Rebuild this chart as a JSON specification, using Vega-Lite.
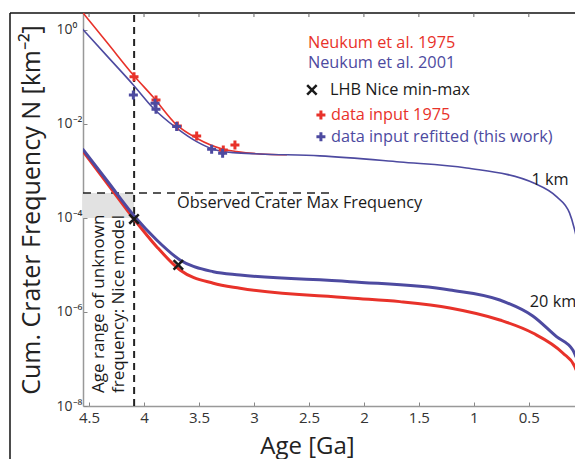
{
  "$schema": "https://vega.github.io/schema/vega-lite/v6.json",
  "width": 492,
  "height": 393,
  "autosize": {"type": "none"},
  "padding": {"left": 83, "top": 13, "right": 0, "bottom": 53},
  "background": "white",
  "config": {
    "view": {"stroke": null},
    "font": "Open Sans",
    "axisY": {
      "titleFontSize": 25, "titleFont": "Open Sans", "titleFontWeight": "normal", "titleColor": "#222",
      "titleX": -52, "titleY": 196.5, "titleAngle": 270, "titleAlign": "center", "titleBaseline": "middle",
      "labelFontSize": 14, "labelFont": "Open Sans", "labelColor": "#333", "labelPadding": 31, "labelAlign": "left",
      "tickSize": -4, "tickColor": "#888", "domainColor": "#999", "domainWidth": 1.5, "grid": false
    },
    "axisX": {
      "titleFontSize": 24, "titleFont": "Open Sans", "titleFontWeight": "normal", "titleColor": "#222",
      "titleX": 224, "titleY": 47, "titleAlign": "center", "titleBaseline": "alphabetic",
      "labelFontSize": 15, "labelFont": "Open Sans", "labelColor": "#333", "labelPadding": 8,
      "tickSize": -4, "tickColor": "#888", "domainColor": "#999", "domainWidth": 1.5, "grid": false
    }
  },
  "datasets": {
    "curves": [
      {"curve": "1km", "series": "1975", "T": 4.56, "N": 2.39},
      {"curve": "1km", "series": "1975", "T": 4.327, "N": 0.508},
      {"curve": "1km", "series": "1975", "T": 4.097, "N": 0.110},
      {"curve": "1km", "series": "1975", "T": 3.915, "N": 0.0368},
      {"curve": "1km", "series": "1975", "T": 3.703, "N": 0.00952},
      {"curve": "1km", "series": "1975", "T": 3.521, "N": 0.00496},
      {"curve": "1km", "series": "1975", "T": 3.279, "N": 0.0029},
      {"curve": "1km", "series": "1975", "T": 3.157, "N": 0.00258},
      {"curve": "1km", "series": "1975", "T": 2.945, "N": 0.0023},
      {"curve": "1km", "series": "1975", "T": 2.7, "N": 0.00221},
      {"curve": "1km", "series": "2001", "T": 4.56, "N": 1.05},
      {"curve": "1km", "series": "2001", "T": 4.327, "N": 0.264},
      {"curve": "1km", "series": "2001", "T": 4.097, "N": 0.0676},
      {"curve": "1km", "series": "2001", "T": 3.915, "N": 0.0216},
      {"curve": "1km", "series": "2001", "T": 3.703, "N": 0.00813},
      {"curve": "1km", "series": "2001", "T": 3.521, "N": 0.0042},
      {"curve": "1km", "series": "2001", "T": 3.37, "N": 0.0029},
      {"curve": "1km", "series": "2001", "T": 3.188, "N": 0.00245},
      {"curve": "1km", "series": "2001", "T": 2.945, "N": 0.0023},
      {"curve": "1km", "series": "2001", "T": 2.4, "N": 0.00209},
      {"curve": "1km", "series": "2001", "T": 1.673, "N": 0.00155},
      {"curve": "1km", "series": "2001", "T": 1.066, "N": 0.00116},
      {"curve": "1km", "series": "2001", "T": 0.45, "N": 0.000547},
      {"curve": "1km", "series": "2001", "T": 0.248, "N": 0.000284},
      {"curve": "1km", "series": "2001", "T": 0.13, "N": 0.000128},
      {"curve": "1km", "series": "2001", "T": 0.085, "N": 0.0000583},
      {"curve": "1km", "series": "2001", "T": 0.07, "N": 0.0000414},
      {"curve": "20km", "series": "1975", "T": 4.56, "N": 0.00273},
      {"curve": "20km", "series": "1975", "T": 4.327, "N": 0.000514},
      {"curve": "20km", "series": "1975", "T": 4.097, "N": 0.0000986},
      {"curve": "20km", "series": "1975", "T": 3.885, "N": 0.0000245},
      {"curve": "20km", "series": "1975", "T": 3.673, "N": 0.00000783},
      {"curve": "20km", "series": "1975", "T": 3.37, "N": 0.00000408},
      {"curve": "20km", "series": "1975", "T": 3.127, "N": 0.00000319},
      {"curve": "20km", "series": "1975", "T": 2.127, "N": 0.00000199},
      {"curve": "20km", "series": "1975", "T": 1.673, "N": 0.00000166},
      {"curve": "20km", "series": "1975", "T": 1.218, "N": 0.00000122},
      {"curve": "20km", "series": "1975", "T": 0.764, "N": 0.000000676},
      {"curve": "20km", "series": "1975", "T": 0.464, "N": 0.000000357},
      {"curve": "20km", "series": "1975", "T": 0.191, "N": 0.000000134},
      {"curve": "20km", "series": "1975", "T": 0.082, "N": 0.0000000685},
      {"curve": "20km", "series": "1975", "T": 0.07, "N": 0.0000000583},
      {"curve": "20km", "series": "2001", "T": 4.56, "N": 0.00296},
      {"curve": "20km", "series": "2001", "T": 4.327, "N": 0.000581},
      {"curve": "20km", "series": "2001", "T": 4.097, "N": 0.000116},
      {"curve": "20km", "series": "2001", "T": 3.885, "N": 0.000034},
      {"curve": "20km", "series": "2001", "T": 3.673, "N": 0.0000128},
      {"curve": "20km", "series": "2001", "T": 3.37, "N": 0.00000719},
      {"curve": "20km", "series": "2001", "T": 3.127, "N": 0.00000612},
      {"curve": "20km", "series": "2001", "T": 2.127, "N": 0.00000442},
      {"curve": "20km", "series": "2001", "T": 1.218, "N": 0.00000294},
      {"curve": "20km", "series": "2001", "T": 0.764, "N": 0.0000018},
      {"curve": "20km", "series": "2001", "T": 0.464, "N": 0.000000822},
      {"curve": "20km", "series": "2001", "T": 0.248, "N": 0.000000298},
      {"curve": "20km", "series": "2001", "T": 0.1, "N": 0.000000155},
      {"curve": "20km", "series": "2001", "T": 0.07, "N": 0.00000011}
    ],
    "markers": [
      {"kind": "data", "series": "1975", "T": 4.091, "N": 0.1014},
      {"kind": "data", "series": "1975", "T": 3.891, "N": 0.0324},
      {"kind": "data", "series": "1975", "T": 3.697, "N": 0.00906},
      {"kind": "data", "series": "1975", "T": 3.521, "N": 0.00556},
      {"kind": "data", "series": "1975", "T": 3.279, "N": 0.0028},
      {"kind": "data", "series": "1975", "T": 3.173, "N": 0.00357},
      {"kind": "data", "series": "2001", "T": 4.097, "N": 0.0414},
      {"kind": "data", "series": "2001", "T": 3.9, "N": 0.0275},
      {"kind": "data", "series": "2001", "T": 3.891, "N": 0.0206},
      {"kind": "data", "series": "2001", "T": 3.703, "N": 0.00877},
      {"kind": "data", "series": "2001", "T": 3.385, "N": 0.0029},
      {"kind": "data", "series": "2001", "T": 3.285, "N": 0.00238},
      {"kind": "data", "series": "1975", "T": 2.391, "N": 0.0155},
      {"kind": "data", "series": "2001", "T": 2.391, "N": 0.00537},
      {"kind": "lhb", "series": "black", "T": 4.091, "N": 0.000095},
      {"kind": "lhb", "series": "black", "T": 3.688, "N": 0.00001},
      {"kind": "lhb", "series": "black", "T": 2.473, "N": 0.0528}
    ],
    "labels": [
      {"series": "1975", "T": 2.509, "N": 0.537, "label": "Neukum et al. 1975"},
      {"series": "2001", "T": 2.509, "N": 0.1954, "label": "Neukum et al. 2001"},
      {"series": "black", "T": 2.309, "N": 0.0528, "label": "LHB Nice min-max"},
      {"series": "1975", "T": 2.3, "N": 0.01552, "label": "data input 1975"},
      {"series": "2001", "T": 2.3, "N": 0.00537, "label": "data input refitted (this work)"},
      {"series": "black", "T": 3.7, "N": 0.0002056, "label": "Observed Crater Max Frequency"},
      {"series": "black", "T": 0.476, "N": 0.000646, "label": "1 km"},
      {"series": "black", "T": 0.491, "N": 0.00000163, "label": "20 km"}
    ],
    "vlabels": [
      {"T": 4.409, "N": 0.0000000189, "label": "Age range of unknown"},
      {"T": 4.227, "N": 0.0000000189, "label": "frequency: Nice model"}
    ],
    "frame": [
      {"T": 5.219, "T2": 0.08, "N": 2.29}
    ],
    "frameleft": [
      {"T": 5.219, "N": 2.29, "N2": 0.0000000007}
    ],
    "topticks": [
      {"T": 4.5, "N": 2.29, "N2": 1.88},
      {"T": 4.0, "N": 2.29, "N2": 1.88},
      {"T": 3.5, "N": 2.29, "N2": 1.88},
      {"T": 3.0, "N": 2.29, "N2": 1.88},
      {"T": 2.5, "N": 2.29, "N2": 1.88},
      {"T": 2.0, "N": 2.29, "N2": 1.88},
      {"T": 1.5, "N": 2.29, "N2": 1.88},
      {"T": 1.0, "N": 2.29, "N2": 1.88},
      {"T": 0.5, "N": 2.29, "N2": 1.88}
    ]
  },
  "encoding": {
    "x": {
      "field": "T", "type": "quantitative",
      "scale": {"domain": [0.08, 4.555], "reverse": true, "nice": false, "zero": false},
      "axis": {"values": [4.5, 4, 3.5, 3, 2.5, 2, 1.5, 1, 0.5], "format": ".1~f", "title": "Age [Ga]", "labelFlush": false, "labelOverlap": false}
    },
    "y": {
      "field": "N", "type": "quantitative",
      "scale": {"type": "log", "domain": [0.00000001, 2.29], "nice": false},
      "axis": {
        "values": [0.00000001, 0.000001, 0.0001, 0.01, 1],
        "labelExpr": "'10' + (datum.value > 0.1 ? '⁰' : datum.value > 0.001 ? '⁻²' : datum.value > 0.00001 ? '⁻⁴' : datum.value > 0.0000001 ? '⁻⁶' : '⁻⁸')",
        "title": "Cum. Crater Frequency N [km⁻²]", "labelFlush": false, "labelOverlap": false
      }
    }
  },
  "layer": [
    {
      "data": {"values": [{"T": 4.555, "T2": 4.09, "N": 0.0001, "N2": 0.00034}]},
      "mark": {"type": "rect", "fill": "#e2e2e2"},
      "encoding": {"x2": {"field": "T2"}, "y2": {"field": "N2"}}
    },
    {
      "data": {"values": [{"T": 4.09, "N": 0.00000001, "N2": 2.29}]},
      "mark": {"type": "rule", "strokeDash": [7, 5], "strokeWidth": 2, "color": "#222"},
      "encoding": {"y2": {"field": "N2"}}
    },
    {
      "data": {"values": [{"T": 4.555, "T2": 2.28, "N": 0.00034}]},
      "mark": {"type": "rule", "strokeDash": [8, 6], "strokeWidth": 1.5, "color": "#222"},
      "encoding": {"x2": {"field": "T2"}}
    },
    {
      "data": {"name": "frame"},
      "mark": {"type": "rule", "strokeWidth": 1.5, "color": "#111"},
      "encoding": {"x2": {"field": "T2"}}
    },
    {
      "data": {"name": "frameleft"},
      "mark": {"type": "rule", "strokeWidth": 1.5, "color": "#111"},
      "encoding": {"y2": {"field": "N2"}}
    },
    {
      "data": {"name": "topticks"},
      "mark": {"type": "rule", "strokeWidth": 1, "color": "#666"},
      "encoding": {"y2": {"field": "N2"}}
    },
    {
      "data": {"name": "curves"},
      "transform": [{"filter": "datum.curve == '1km'"}],
      "mark": {"type": "line", "strokeWidth": 1.6, "clip": true, "interpolate": "monotone"},
      "encoding": {
        "color": {"field": "series", "type": "nominal", "legend": null,
                  "scale": {"domain": ["1975", "2001", "black"], "range": ["#e8322a", "#4d4aa0", "#1a1a1a"]}}
      }
    },
    {
      "data": {"name": "curves"},
      "transform": [{"filter": "datum.curve == '20km'"}],
      "mark": {"type": "line", "strokeWidth": 3, "clip": true, "interpolate": "monotone"},
      "encoding": {
        "color": {"field": "series", "type": "nominal", "legend": null,
                  "scale": {"domain": ["1975", "2001", "black"], "range": ["#e8322a", "#4d4aa0", "#1a1a1a"]}}
      }
    },
    {
      "data": {"name": "markers"},
      "transform": [{"filter": "datum.kind == 'data'"}],
      "mark": {"type": "point", "shape": "M-1,0L1,0M0,-1L0,1", "filled": false, "strokeWidth": 3, "size": 81, "opacity": 1},
      "encoding": {
        "color": {"field": "series", "type": "nominal", "legend": null,
                  "scale": {"domain": ["1975", "2001", "black"], "range": ["#e8322a", "#4d4aa0", "#1a1a1a"]}}
      }
    },
    {
      "data": {"name": "markers"},
      "transform": [{"filter": "datum.kind == 'lhb'"}],
      "mark": {"type": "point", "shape": "M-1,-1L1,1M-1,1L1,-1", "filled": false, "strokeWidth": 2.5, "size": 90, "opacity": 1},
      "encoding": {
        "color": {"field": "series", "type": "nominal", "legend": null,
                  "scale": {"domain": ["1975", "2001", "black"], "range": ["#e8322a", "#4d4aa0", "#1a1a1a"]}}
      }
    },
    {
      "data": {"name": "labels"},
      "mark": {"type": "text", "align": "left", "baseline": "middle", "font": "Open Sans", "fontSize": 16.3},
      "encoding": {
        "text": {"field": "label"},
        "color": {"field": "series", "type": "nominal", "legend": null,
                  "scale": {"domain": ["1975", "2001", "black"], "range": ["#e8322a", "#4d4aa0", "#1a1a1a"]}}
      }
    },
    {
      "data": {"name": "vlabels"},
      "mark": {"type": "text", "align": "left", "baseline": "middle", "angle": 270, "font": "Open Sans", "fontSize": 17, "color": "#1a1a1a"},
      "encoding": {"text": {"field": "label"}}
    }
  ]
}
